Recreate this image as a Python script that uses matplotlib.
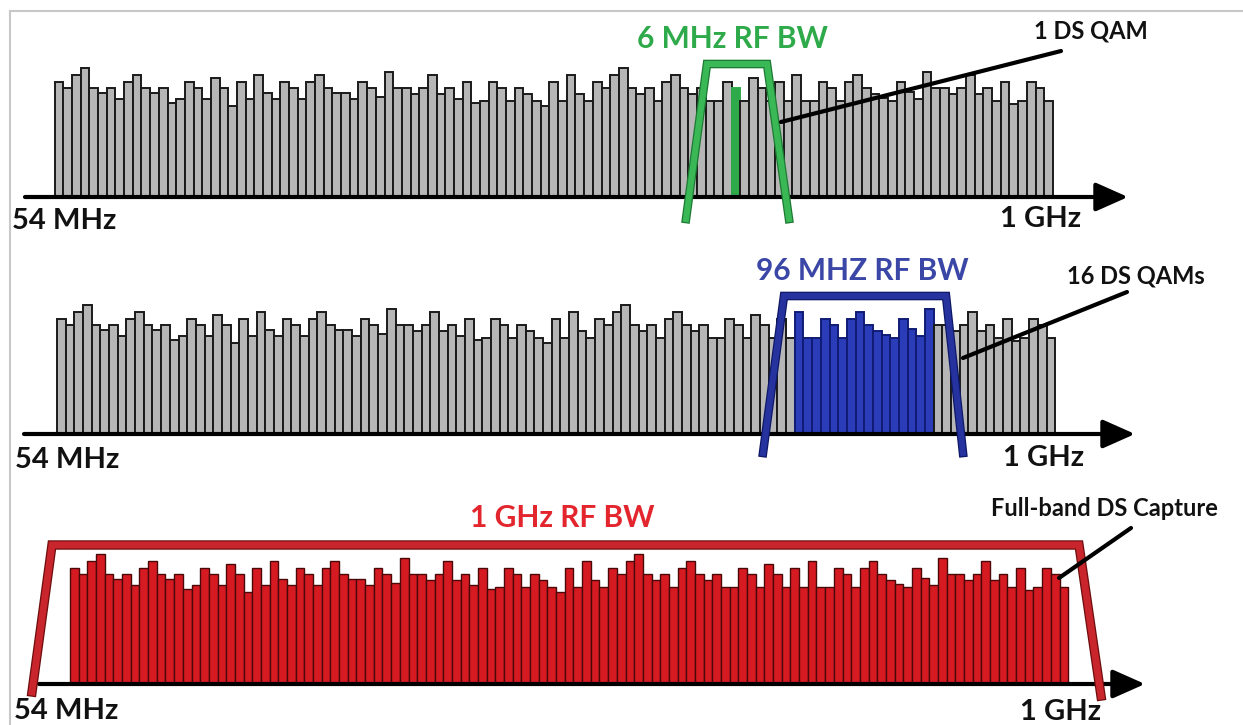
import matplotlib
matplotlib.use('Agg')
from matplotlib import pyplot as plt
import matplotlib.patheffects as pe

# bar heights (px above the baseline), same spectrum in all three rows
levels = [113, 107, 120, 126, 107, 102, 107, 96, 113, 120,
          107, 102, 107, 92, 96, 113, 107, 96, 117, 107,
          89, 113, 96, 120, 102, 96, 113, 107, 96, 113,
          120, 107, 102, 102, 96, 113, 107, 98, 123, 107,
          107, 101, 107, 120, 101, 107, 96, 113, 92, 94,
          113, 107, 94, 107, 101, 94, 89, 113, 94, 120,
          101, 94, 113, 107, 120, 126, 107, 101, 107, 94,
          113, 120, 107, 101, 107, 94, 94, 113, 107, 94,
          117, 107, 94, 113, 94, 120, 94, 94, 113, 107,
          94, 113, 120, 107, 101, 97, 94, 113, 103, 96,
          123, 107, 107, 101, 107, 120, 101, 107, 94, 113,
          91, 94, 113, 107, 94]

one_qam = [78]                      # channel picked in row 1
sixteen_qams = list(range(85, 101))  # channels picked in row 2

row_titles = ['6 MHz RF BW', '96 MHZ RF BW', '1 GHz RF BW']
row_notes = ['1 DS QAM', '16 DS QAMs', 'Full-band DS Capture']
low_label = '54 MHz'
high_label = '1 GHz'

FONT = 'Lato'
BW = 8.68  # bar width in px
LABEL_SIZE = 21
TITLE_SIZE = 21.5
NOTE_SIZE = 17


def draw_bars(ax, x0, base, face, edge, lw=1.4, pick=None, pick_face=None, pick_edge=None):
    xs = [x0 + i * BW for i in range(len(levels))]
    hs = [-v * 1.02 for v in levels]
    fc = [face] * len(levels)
    ec = [edge] * len(levels)
    if pick:
        for i in pick:
            fc[i] = pick_face
            ec[i] = pick_edge
    ax.bar(xs, hs, bottom=base, width=BW, align='edge', color=fc,
           edgecolor=ec, linewidth=lw, zorder=2)


def draw_axis(ax, x_start, x_tip, y):
    ax.annotate('', xy=(x_tip, y), xytext=(x_start, y),
                arrowprops=dict(arrowstyle='-|>,head_length=0.9,head_width=0.4',
                                lw=3, color='black', shrinkA=0, shrinkB=0,
                                mutation_scale=22), zorder=3)


def draw_filter(ax, pts, color, dark, lw=4.4):
    xs = [p[0] for p in pts]
    ys = [p[1] for p in pts]
    ax.plot(xs, ys, color=color, lw=lw, solid_joinstyle='miter', zorder=4,
            path_effects=[pe.Stroke(linewidth=lw + 1.8, foreground=dark), pe.Normal()])


def pointer(ax, a, b):
    ax.plot([a[0], b[0]], [a[1], b[1]], color='black', lw=3, zorder=5,
            solid_capstyle='round')


def label(ax, x, y, s, size, color='#111111', ha='left'):
    ax.text(x, y, s, color=color, fontsize=size, fontweight='bold',
            family=FONT, ha=ha, va='center')


fig = plt.figure(figsize=(12.43, 7.25), dpi=100)
ax = fig.add_axes([0, 0, 1, 1])
ax.set_xlim(0, 1243)
ax.set_ylim(725, 0)
ax.axis('off')

# frame lines of the original picture
ax.plot([10, 1243], [11, 11], color='#c8c8c8', lw=1.5)
ax.plot([10, 10], [11, 725], color='#c8c8c8', lw=1.5)

# ---- row 1 : one QAM
draw_bars(ax, 54.7, 197, '#b6b6b6', '#1a1a1a', pick=one_qam,
          pick_face='#2eaa4a', pick_edge='#2eaa4a')
draw_axis(ax, 25, 1128, 197)
draw_filter(ax, [(686, 219), (707, 64), (767, 64), (789, 219)], '#3bb856', '#1c7a33')
pointer(ax, (781, 122), (1061, 51))
label(ax, 732, 39, row_titles[0], TITLE_SIZE, '#2eaa4a', 'center')
label(ax, 1034, 31, row_notes[0], NOTE_SIZE)
label(ax, 12, 221, low_label, LABEL_SIZE)
label(ax, 1000, 219, high_label, LABEL_SIZE)

# ---- row 2 : 16 QAMs
draw_bars(ax, 57, 434, '#b6b6b6', '#1a1a1a', pick=sixteen_qams,
          pick_face='#2a3cb8', pick_edge='#101c74')
draw_axis(ax, 24, 1135, 434)
draw_filter(ax, [(763, 453), (784, 296), (946, 296), (963, 453)], '#26339f', '#0e1866')
pointer(ax, (963, 358), (1127, 292))
label(ax, 862, 271, row_titles[1], TITLE_SIZE, '#3b47a6', 'center')
label(ax, 1067, 276, row_notes[1], NOTE_SIZE)
label(ax, 15, 460, low_label, LABEL_SIZE)
label(ax, 1003, 458, high_label, LABEL_SIZE)

# ---- row 3 : full band
draw_bars(ax, 70, 683, '#d61a21', '#4a0808', lw=1.0)
draw_axis(ax, 39, 1145, 684)
draw_filter(ax, [(32, 692), (52, 545), (1079, 545), (1101, 696)], '#c8252c', '#6e0d0d', lw=5)
pointer(ax, (1059, 578), (1131, 528))
label(ax, 562, 518, row_titles[2], TITLE_SIZE, '#e3262d', 'center')
label(ax, 991, 509, row_notes[2], NOTE_SIZE)
label(ax, 14, 711, low_label, LABEL_SIZE)
label(ax, 1020, 712, high_label, LABEL_SIZE)

fig.savefig('out.png', dpi=100)
